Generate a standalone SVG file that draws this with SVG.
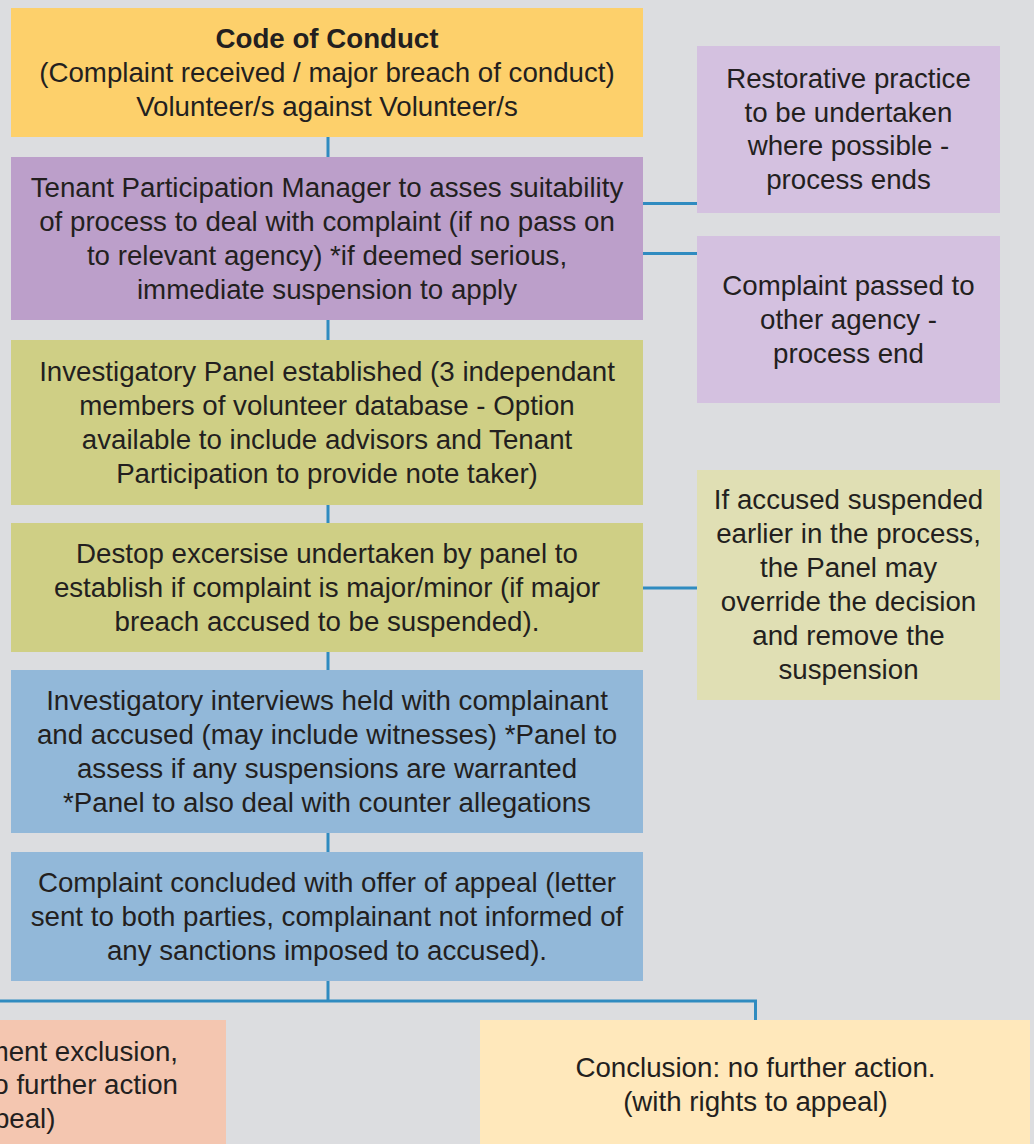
<svg xmlns="http://www.w3.org/2000/svg" width="1034" height="1144" viewBox="0 0 1034 1144">
  <style>
    text { font-family: "Liberation Sans", Arial, sans-serif; font-size: 27.7px; fill: #231f20; text-anchor: middle; }
    .b { font-weight: bold; }
    .end { text-anchor: end; }
    .conn { stroke: #2f8bc0; stroke-width: 3; fill: none; }
    .yellow { fill: #fdd06b; }
    .purple { fill: #bc9fca; }
    .olive { fill: #cfcf85; }
    .blue { fill: #92b8d9; }
    .lpurple { fill: #d4c1e0; }
    .lolive { fill: #e0dfb4; }
    .salmon { fill: #f4c6b0; }
    .lyellow { fill: #ffe8bb; }
  </style>
  <rect x="0" y="0" width="1034" height="1144" fill="#dcdde0"/>

  <g id="connectors">
    <line class="conn" x1="328" y1="137" x2="328" y2="157"/>
    <line class="conn" x1="328" y1="320" x2="328" y2="340"/>
    <line class="conn" x1="328" y1="505" x2="328" y2="523"/>
    <line class="conn" x1="328" y1="652" x2="328" y2="670"/>
    <line class="conn" x1="328" y1="833" x2="328" y2="852"/>
    <line class="conn" x1="643" y1="203.5" x2="697" y2="203.5"/>
    <line class="conn" x1="643" y1="253.5" x2="697" y2="253.5"/>
    <line class="conn" x1="643" y1="588" x2="697" y2="588"/>
    <line class="conn" x1="328" y1="981" x2="328" y2="1001"/>
    <polyline class="conn" points="-5,1001 755.5,1001 755.5,1020"/>
  </g>

  <g id="code-of-conduct">
    <rect class="yellow" x="11" y="8" width="632" height="129"/>
    <text class="b" x="327" y="48">Code of Conduct</text>
    <text x="327" y="81.5">(Complaint received / major breach of conduct)</text>
    <text x="327" y="115.5">Volunteer/s against Volunteer/s</text>
  </g>

  <g id="tp-manager">
    <rect class="purple" x="11" y="157" width="632" height="163"/>
    <text x="327" y="197">Tenant Participation Manager to asses suitability</text>
    <text x="327" y="231">of process to deal with complaint (if no pass on</text>
    <text x="327" y="265">to relevant agency) *if deemed serious,</text>
    <text x="327" y="299">immediate suspension to apply</text>
  </g>

  <g id="investigatory-panel">
    <rect class="olive" x="11" y="340" width="632" height="165"/>
    <text x="327" y="381">Investigatory Panel established (3 independant</text>
    <text x="327" y="415">members of volunteer database - Option</text>
    <text x="327" y="449">available to include advisors and Tenant</text>
    <text x="327" y="483">Participation to provide note taker)</text>
  </g>

  <g id="desktop-exercise">
    <rect class="olive" x="11" y="523" width="632" height="129"/>
    <text x="327" y="563">Destop excersise undertaken by panel to</text>
    <text x="327" y="597">establish if complaint is major/minor (if major</text>
    <text x="327" y="631">breach accused to be suspended).</text>
  </g>

  <g id="interviews">
    <rect class="blue" x="11" y="670" width="632" height="163"/>
    <text x="327" y="710">Investigatory interviews held with complainant</text>
    <text x="327" y="744">and accused (may include witnesses) *Panel to</text>
    <text x="327" y="778">assess if any suspensions are warranted</text>
    <text x="327" y="812">*Panel to also deal with counter allegations</text>
  </g>

  <g id="complaint-concluded">
    <rect class="blue" x="11" y="852" width="632" height="129"/>
    <text x="327" y="892">Complaint concluded with offer of appeal (letter</text>
    <text x="327" y="926">sent to both parties, complainant not informed of</text>
    <text x="327" y="960">any sanctions imposed to accused).</text>
  </g>

  <g id="restorative">
    <rect class="lpurple" x="697" y="46" width="303" height="167"/>
    <text x="848.5" y="88">Restorative practice</text>
    <text x="848.5" y="121.7">to be undertaken</text>
    <text x="848.5" y="155.3">where possible -</text>
    <text x="848.5" y="189">process ends</text>
  </g>

  <g id="other-agency">
    <rect class="lpurple" x="697" y="236" width="303" height="167"/>
    <text x="848.5" y="295">Complaint passed to</text>
    <text x="848.5" y="328.5">other agency -</text>
    <text x="848.5" y="362.5">process end</text>
  </g>

  <g id="override">
    <rect class="lolive" x="697" y="470" width="303" height="230"/>
    <text x="848.5" y="508.5">If accused suspended</text>
    <text x="848.5" y="542.5">earlier in the process,</text>
    <text x="848.5" y="576.5">the Panel may</text>
    <text x="848.5" y="610.5">override the decision</text>
    <text x="848.5" y="644.5">and remove the</text>
    <text x="848.5" y="678.5">suspension</text>
  </g>

  <g id="exclusion">
    <rect class="salmon" x="-10" y="1020" width="236" height="130"/>
    <text class="end" x="178" y="1060.5">ment exclusion,</text>
    <text class="end" x="178" y="1094">o further action</text>
    <text class="end" x="55.5" y="1127.5">peal)</text>
  </g>

  <g id="no-further-action">
    <rect class="lyellow" x="480" y="1020" width="550" height="130"/>
    <text x="755.5" y="1077">Conclusion: no further action.</text>
    <text x="755.5" y="1111">(with rights to appeal)</text>
  </g>
</svg>
